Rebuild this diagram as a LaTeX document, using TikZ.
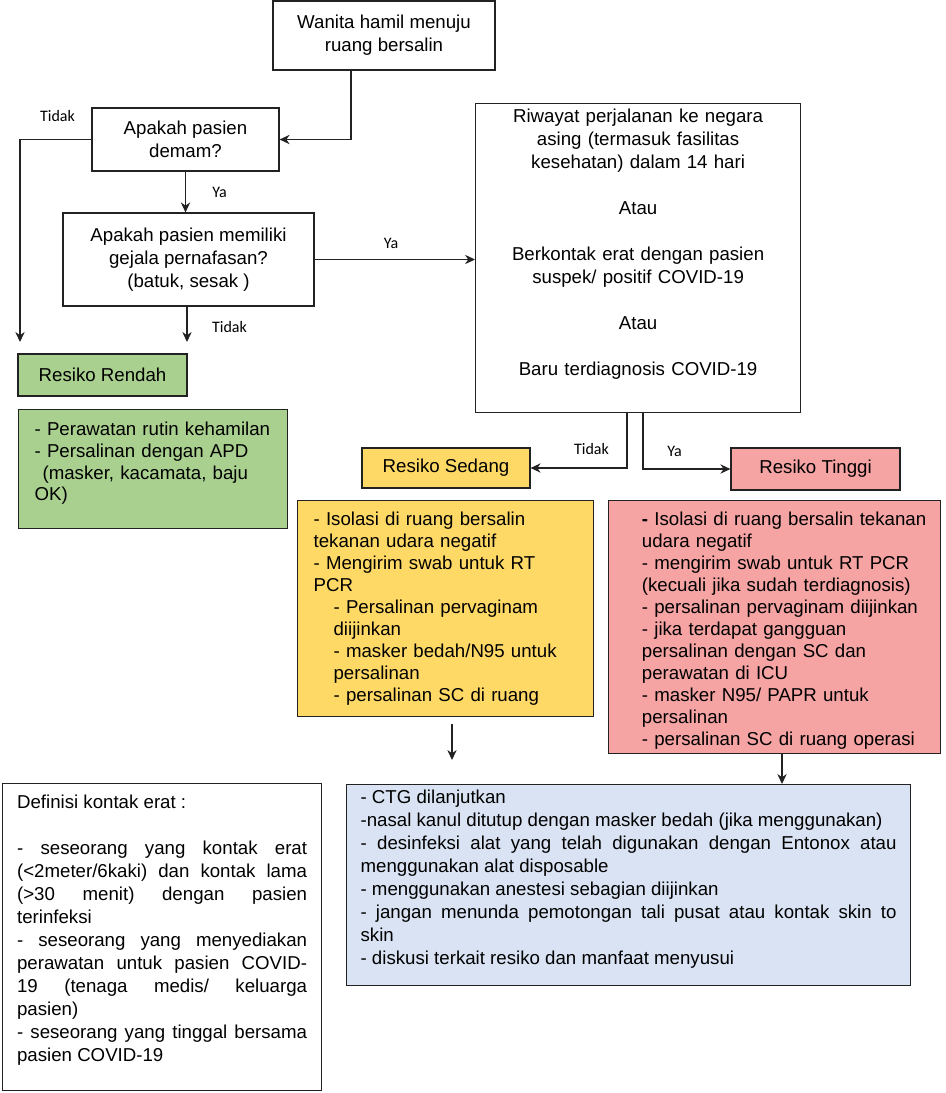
\documentclass[tikz,border=0pt]{standalone}
\usepackage{fontspec}
\setmainfont{Liberation Sans}
\newfontfamily\etiq{Carlito}
\usetikzlibrary{arrows.meta}

\definecolor{verde}{HTML}{A9D08E}
\definecolor{amarillo}{HTML}{FFD966}
\definecolor{rosa}{HTML}{F5A3A3}
\definecolor{azul}{HTML}{DAE3F3}
\definecolor{borde}{HTML}{222222}

\tikzset{
  caja/.style={draw=borde, line width=0.9pt, rectangle, inner sep=0pt, align=center,
    font=\fontsize{14}{17.25}\selectfont},
  lista/.style={draw=borde, line width=0.9pt, rectangle, anchor=north west, inner ysep=0pt,
    align=left, font=\fontsize{14}{16.5}\selectfont},
  flecha/.style={-{Stealth[length=7.5pt,width=7pt]}, line width=0.9pt, draw=borde},
  etiqueta/.style={font=\etiq\fontsize{12}{14}\selectfont, inner sep=0pt},
}

\begin{document}
\hyphenpenalty=10000
\tolerance=10000
\hbadness=10000
\begin{tikzpicture}[x=0.75pt, y=-0.75pt] % 1 unidad = 1 pixel de la imagen

    \useasboundingbox (0,0) rectangle (946,1093);

    % 1. Cajas de decision
    \node[caja, minimum width=166.5pt, minimum height=51.75pt] (inicio) at (384,35.5)
        {Wanita hamil menuju\\ruang bersalin};
    \node[caja, minimum width=140.25pt, minimum height=47.25pt] (demam) at (185.5,139.5)
        {Apakah pasien\\demam?};
    \node[caja, minimum width=188.25pt, minimum height=69.75pt] (gejala) at (188.5,259.5)
        {Apakah pasien memiliki\\gejala pernafasan?\\(batuk, sesak )};
    \node[caja, anchor=north west, inner xsep=9.375pt, text width=225pt,
          text height=14.25pt, text depth=217.5pt] (riwayat) at (475,103)
        {Riwayat perjalanan ke negara\\asing (termasuk fasilitas\\kesehatan) dalam 14 hari\\[17.25pt]
         Atau\\[17.25pt]
         Berkontak erat dengan pasien\\suspek/ positif COVID-19\\[17.25pt]
         Atau\\[17.25pt]
         Baru terdiagnosis COVID-19};

    % 2. Niveles de riesgo
    \node[caja, fill=verde, minimum width=126.75pt, minimum height=31.5pt] (rendah) at (102.5,375) {Resiko Rendah};
    \node[caja, fill=amarillo, minimum width=126pt, minimum height=30pt] (sedang) at (446,468) {Resiko Sedang};
    \node[caja, fill=rosa, minimum width=126.75pt, minimum height=31.5pt] (tinggi) at (815.5,469) {Resiko Tinggi};

    % 3. Listas de cada nivel
    \node[lista, fill=verde, inner xsep=12pt, text width=177.75pt, text height=19.5pt, text depth=69.75pt,
          font=\fontsize{14}{16.3}\selectfont] (rendahtxt) at (18,409)
        {- Perawatan rutin kehamilan\\- Persalinan dengan APD\\\hspace*{6pt}(masker, kacamata, baju\\OK)};
    \node[lista, fill=amarillo, inner xsep=12pt, text width=198pt, text height=18.75pt, text depth=143.25pt] (sedangtxt) at (297,500)
        {- Isolasi di ruang bersalin\\tekanan udara negatif\\- Mengirim swab untuk RT\\PCR\\
         \hspace*{15pt}- Persalinan pervaginam\\\hspace*{15pt}diijinkan\\
         \hspace*{15pt}- masker bedah/N95 untuk\\\hspace*{15pt}persalinan\\
         \hspace*{15pt}- persalinan SC di ruang};
    \node[lista, fill=rosa, inner xsep=10pt, text width=229pt, text height=18.75pt, text depth=171pt] (tinggitxt) at (608,500)
        {\leftskip=15pt \textbf{-} Isolasi di ruang bersalin tekanan\\udara negatif\\
         - mengirim swab untuk RT PCR\\(kecuali jika sudah terdiagnosis)\\
         - persalinan pervaginam diijinkan\\- jika terdapat gangguan\\
         persalinan dengan SC dan\\perawatan di ICU\\
         - masker N95/ PAPR untuk\\persalinan\\- persalinan SC di ruang operasi\par};

    % 4. Cuidados durante el parto y definicion
    \node[lista, fill=azul, align=justify, inner xsep=10.5pt, text width=402pt, text height=14.25pt, text depth=136.5pt,
          font=\fontsize{14}{17.25}\selectfont] (azultxt) at (346,784)
        {- CTG dilanjutkan\\
         -nasal kanul ditutup dengan masker bedah (jika menggunakan)\\
         - desinfeksi alat yang telah digunakan dengan Entonox atau\linebreak menggunakan alat disposable\\
         - menggunakan anestesi sebagian diijinkan\\
         - jangan menunda pemotongan tali pusat atau kontak skin to\linebreak skin\\
         - diskusi terkait resiko dan manfaat menyusui};
    \node[lista, fill=white, align=justify, inner xsep=10.875pt, text width=217.5pt, text height=18.75pt, text depth=211.5pt,
          font=\fontsize{14}{17.25}\selectfont] (definisi) at (2,783)
        {Definisi kontak erat :\\[17.25pt]
         - seseorang yang kontak erat\linebreak (<2meter/6kaki) dan kontak lama\linebreak
         (>30 menit) dengan pasien\linebreak terinfeksi\\
         - seseorang yang menyediakan\linebreak perawatan untuk pasien COVID-\linebreak
         19 (tenaga medis/ keluarga\linebreak pasien)\\
         - seseorang yang tinggal bersama\linebreak pasien COVID-19};

    % 5. Puntos libres de las flechas
    \coordinate (finrendah) at (20,342);
    \coordinate (fintidak) at (187,342);
    \coordinate (inisedang) at (452,724);
    \coordinate (finsedang) at (452,760);

    % 6. Flechas
    \draw[flecha] (351,0 |- inicio.south) |- (demam.east);
    \draw[flecha] (demam.west) -| (finrendah);
    \draw[flecha] (demam.south) -- (gejala.north -| demam.south);
    \draw[flecha] (gejala.south -| fintidak) -- (fintidak);
    \draw[flecha] (gejala.east) -- (gejala.east -| riwayat.west);
    \draw[flecha] (627,0 |- riwayat.south) |- (sedang.east);
    \draw[flecha] (643,0 |- riwayat.south) |- (tinggi.west);
    \draw[flecha] (inisedang) -- (finsedang);
    \draw[flecha] (782,0 |- tinggitxt.south) -- (782,0 |- azultxt.north);

    % 7. Etiquetas Ya / Tidak
    \node[etiqueta] (tidak1) at (57.5,116) {Tidak};
    \node[etiqueta] (ya1) at (219.5,192) {Ya};
    \node[etiqueta] (ya2) at (391,243) {Ya};
    \node[etiqueta] (tidak2) at (229.5,327) {Tidak};
    \node[etiqueta] (tidak3) at (591.5,449) {Tidak};
    \node[etiqueta] (ya3) at (674.5,451) {Ya};

\end{tikzpicture}
\end{document}
